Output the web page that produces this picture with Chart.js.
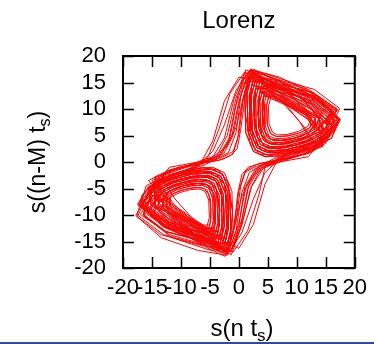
<!DOCTYPE html>
<html>
<head>
<meta charset="utf-8">
<script src="https://cdn.jsdelivr.net/npm/chart.js@4.4.1/dist/chart.umd.min.js"></script>
<style>
  html, body { margin: 0; padding: 0; background: #fff; }
  #wrap { position: relative; width: 374px; height: 344px; }
</style>
</head>
<body>
<div id="wrap"><canvas id="canvas" width="374" height="344"></canvas></div>
<script>
// delay embedding: x = s(n t_s), y = s((n-M) t_s)
const delayM = 3;
const xTickValues = [-20, -15, -10, -5, 0, 5, 10, 15, 20];
const yTickValues = [-20, -15, -10, -5, 0, 5, 10, 15, 20];
const titleText = "Lorenz";

// sampled Lorenz x signal s(n t_s); one loop (peak to peak) per line
const signal = [
  // right wing
  13.0, 10.8, 7.0, 5.3, 4.8, 4.9, 5.5, 6.5, 8.3, 10.5, 12.3,
  13.2, 9.0, 5.2, 3.6, 3.3, 3.9, 5.0, 6.9, 9.7, 12.5, 14.2,
  16.1, 12.3, 6.0, 3.0, 2.1, 2.3, 3.4, 5.1, 8.1, 11.9, 14.9,
  17.4, 13.0, 5.5, 2.0, 1.0, 1.2, 2.5, 4.5, 8.0, 12.5, 16.0,
  17.2, 12.8, 5.5, 1.8, 0.4, -0.5, -1.8, -4.0, -8.0, -12.5,
  // left wing
  -13.8, -11.2, -6.7, -4.6, -4.0, -4.1, -4.9, -6.1, -8.2, -10.9, -13.0,
  -13.2, -9.0, -5.2, -3.6, -3.3, -3.9, -5.0, -6.9, -9.7, -12.5, -14.2,
  -16.1, -12.3, -6.0, -3.0, -2.1, -2.3, -3.4, -5.1, -8.1, -11.9, -14.9,
  -17.0, -12.8, -5.7, -2.3, -1.4, -1.6, -2.8, -4.7, -8.0, -12.3, -15.6,
  -17.4, -13.0, -5.8, -2.0, -0.5, 0.5, 1.8, 4.0, 8.0, 12.5,
  // right wing
  15.2, 11.9, 6.3, 3.6, 2.9, 3.0, 4.0, 5.5, 8.1, 11.5, 14.1,
  14.5, 9.2, 4.2, 2.2, 1.8, 2.5, 4.0, 6.5, 10.1, 13.7, 15.9,
  16.8, 12.0, 4.5, 1.0, -0.8, -2.5, -4.5, -7.5, -11.5, -15.0,
  // left wing
  -13.0, -10.8, -7.0, -5.3, -4.8, -4.9, -5.5, -6.5, -8.3, -10.5, -12.3,
  -12.5, -9.0, -5.7, -4.3, -4.1, -4.5, -5.5, -7.2, -9.6, -12.0, -13.4,
  -14.7, -11.7, -6.4, -4.0, -3.3, -3.4, -4.3, -5.7, -8.2, -11.3, -13.8,
  -13.9, -9.1, -4.7, -2.9, -2.6, -3.2, -4.5, -6.7, -9.9, -13.1, -15.1,
  -16.5, -12.6, -5.8, -2.7, -1.8, -1.9, -3.1, -4.9, -8.1, -12.1, -15.3,
  -16.5, -11.8, -4.6, -1.2, 0.5, 2.2, 4.2, 7.5, 11.5, 15.0,
  // right wing
  14.3, 11.4, 6.6, 4.3, 3.6, 3.8, 4.6, 5.9, 8.2, 11.1, 13.4,
  15.6, 12.1, 6.1, 3.3, 2.5, 2.7, 3.7, 5.3, 8.1, 11.7, 14.5,
  13.9, 9.1, 4.7, 2.9, 2.6, 3.2, 4.5, 6.7, 9.9, 13.1, 15.1,
  17.0, 12.8, 5.7, 2.3, 1.4, 1.6, 2.8, 4.7, 8.0, 12.3, 15.6,
  17.5, 13.2, 6.0, 2.5, 1.2, 0.3, -0.3, -1.5, -3.5, -7.5, -12.0,
  // left wing
  -15.6, -12.1, -6.1, -3.3, -2.5, -2.7, -3.7, -5.3, -8.1, -11.7, -14.5,
  -14.5, -9.2, -4.2, -2.2, -1.8, -2.5, -4.0, -6.5, -10.1, -13.7, -15.9,
  -17.8, -13.5, -6.0, -2.4, -1.0, -0.2, 0.5, 1.6, 3.8, 7.6, 12.0,
  // right wing
  12.5, 10.5, 7.2, 5.6, 5.1, 5.2, 5.8, 6.7, 8.3, 10.3, 11.9,
  12.5, 9.0, 5.7, 4.3, 4.1, 4.5, 5.5, 7.2, 9.6, 12.0, 13.4,
  14.3, 11.4, 6.6, 4.3, 3.6, 3.8, 4.6, 5.9, 8.2, 11.1, 13.4,
  13.2, 9.0, 5.2, 3.6, 3.3, 3.9, 5.0, 6.9, 9.7, 12.5, 14.2,
  16.1, 12.3, 6.0, 3.0, 2.1, 2.3, 3.4, 5.1, 8.1, 11.9, 14.9,
  16.0, 11.5, 5.0, 1.5, 0.0, -1.2, -3.0, -6.0, -10.5, -14.5,
  // left wing
  -14.3, -11.4, -6.6, -4.3, -3.6, -3.8, -4.6, -5.9, -8.2, -11.1, -13.4,
  -13.9, -9.1, -4.7, -2.9, -2.6, -3.2, -4.5, -6.7, -9.9, -13.1, -15.1,
  -16.5, -12.6, -5.8, -2.7, -1.8, -1.9, -3.1, -4.9, -8.1, -12.1, -15.3,
  -15.2, -9.3, -3.8, -1.5, -1.1, -1.9, -3.5, -6.3, -10.3, -14.3, -16.7,
  -16.2, -11.5, -4.8, -1.5, 0.0, 1.2, 3.0, 6.0, 10.5, 14.5,
  // right wing
  13.8, 11.2, 6.7, 4.6, 4.0, 4.1, 4.9, 6.1, 8.2, 10.9, 13.0,
  13.2, 9.0, 5.2, 3.6, 3.3, 3.9, 5.0, 6.9, 9.7, 12.5, 14.2,
  16.5, 12.6, 5.8, 2.7, 1.8, 1.9, 3.1, 4.9, 8.1, 12.1, 15.3,
  17.4, 12.5, 4.8, 1.2, -0.2, -1.5, -3.5, -6.8, -11.0, -15.0,
  // left wing
  -12.5, -10.5, -7.2, -5.6, -5.1, -5.2, -5.8, -6.7, -8.3, -10.3, -11.9,
  -11.9, -8.9, -6.1, -5.0, -4.8, -5.2, -6.0, -7.4, -9.4, -11.4, -12.6,
  -13.8, -11.2, -6.7, -4.6, -4.0, -4.1, -4.9, -6.1, -8.2, -10.9, -13.0,
  -13.2, -9.0, -5.2, -3.6, -3.3, -3.9, -5.0, -6.9, -9.7, -12.5, -14.2,
  -15.6, -12.1, -6.1, -3.3, -2.5, -2.7, -3.7, -5.3, -8.1, -11.7, -14.5,
  -17.0, -12.8, -5.7, -2.3, -1.4, -1.6, -2.8, -4.7, -8.0, -12.3, -15.6,
  -17.5, -12.8, -5.0, -1.3, 0.2, 1.5, 3.5, 6.8, 11.0, 15.0,
  // right wing
  16.1, 12.3, 6.0, 3.0, 2.1, 2.3, 3.4, 5.1, 8.1, 11.9, 14.9,
  15.2, 9.3, 3.8, 1.5, 1.1, 1.9, 3.5, 6.3, 10.3, 14.3, 16.7,
  15.5, 11.0, 4.5, 1.5, 0.5, -0.2, -1.0, -2.8, -6.0, -10.5, -14.5,
  // left wing
  -13.4, -11.0, -6.9, -4.9, -4.4, -4.5, -5.2, -6.3, -8.2, -10.7, -12.6,
  -12.5, -9.0, -5.7, -4.3, -4.1, -4.5, -5.5, -7.2, -9.6, -12.0, -13.4,
  -15.2, -11.9, -6.3, -3.6, -2.9, -3.0, -4.0, -5.5, -8.1, -11.5, -14.1,
  -16.1, -12.3, -6.0, -3.0, -2.1, -2.3, -3.4, -5.1, -8.1, -11.9, -14.9,
  -15.8, -11.2, -4.6, -1.6, -0.5, 0.3, 1.2, 3.0, 6.2, 10.5, 14.5,
  // right wing
  13.0, 10.8, 7.0, 5.3, 4.8, 4.9, 5.5, 6.5, 8.3, 10.5, 12.3,
  12.5, 9.0, 5.7, 4.3, 4.1, 4.5, 5.5, 7.2, 9.6, 12.0, 13.4,
  14.7, 11.7, 6.4, 4.0, 3.3, 3.4, 4.3, 5.7, 8.2, 11.3, 13.8,
  13.9, 9.1, 4.7, 2.9, 2.6, 3.2, 4.5, 6.7, 9.9, 13.1, 15.1,
  16.5, 12.6, 5.8, 2.7, 1.8, 1.9, 3.1, 4.9, 8.1, 12.1, 15.3,
  17.0, 12.0, 5.0, 1.6, 0.2, -1.0, -2.6, -5.0, -9.0, -13.5,
  // left wing
  -15.2, -11.9, -6.3, -3.6, -2.9, -3.0, -4.0, -5.5, -8.1, -11.5, -14.1,
  -14.5, -9.2, -4.2, -2.2, -1.8, -2.5, -4.0, -6.5, -10.1, -13.7, -15.9,
  -17.4, -13.0, -5.5, -2.0, -1.0, -1.2, -2.5, -4.5, -8.0, -12.5, -16.0,
  -17.0, -12.0, -4.8, -1.4, 0.0, 1.0, 2.8, 5.2, 9.0, 13.5,
  // right wing
  14.7, 11.7, 6.4, 4.0, 3.3, 3.4, 4.3, 5.7, 8.2, 11.3, 13.8,
  13.9, 9.1, 4.7, 2.9, 2.6, 3.2, 4.5, 6.7, 9.9, 13.1, 15.1,
  17.0, 12.8, 5.7, 2.3, 1.4, 1.6, 2.8, 4.7, 8.0, 12.3, 15.6,
  16.5, 12.2, 5.2, 2.0, 0.8, 0.0, -1.0, -3.0, -7.0, -12.0,
  // left wing
  -13.4, -11.0, -6.9, -4.9, -4.4, -4.5, -5.2, -6.3, -8.2, -10.7, -12.6,
  -13.2, -9.0, -5.2, -3.6, -3.3, -3.9, -5.0, -6.9, -9.7, -12.5, -14.2,
  -15.6, -12.1, -6.1, -3.3, -2.5, -2.7, -3.7, -5.3, -8.1, -11.7, -14.5,
  -16.8, -12.4, -5.4, -2.0, -0.8, 0.0, 1.0, 3.0, 7.0, 12.0,
  // right wing
  13.4, 11.0, 6.9, 4.9, 4.4, 4.5, 5.2, 6.3, 8.2, 10.7, 12.6,
  13.2, 9.0, 5.2, 3.6, 3.3, 3.9, 5.0, 6.9, 9.7, 12.5, 14.2,
  17.0, 13.0, 6.0, 1.0, -1.5, -3.5, -5.3, -8.0, -12.0, -15.5,
  // left wing
  -14.7, -11.7, -6.4, -4.0, -3.3, -3.4, -4.3, -5.7, -8.2, -11.3, -13.8,
  -14.5, -9.2, -4.2, -2.2, -1.8, -2.5, -4.0, -6.5, -10.1, -13.7, -15.9,
  -16.5, -12.0, -5.0, -1.2, 0.5, 2.0, 3.8, 6.5, 10.5, 14.5,
  // right wing
  15.6, 12.1, 6.1, 3.3, 2.5, 2.7, 3.7, 5.3, 8.1, 11.7, 14.5,
  16.5, 12.0, 5.0, 1.2, -0.5, -2.0, -3.8, -6.5, -10.5, -14.5,
  // left wing
  -16.1, -12.3, -6.0, -3.0, -2.1, -2.3, -3.4, -5.1, -8.1, -11.9, -14.9,
  -17.0, -13.0, -6.0, -1.0, 1.5, 3.5, 4.5, 8.0, 12.0, 15.5,
  // right wing
  13.8, 11.2, 6.7, 4.6, 4.0, 4.1, 4.9, 6.1, 8.2, 10.9, 13.0,
  13.9, 9.1, 4.7, 2.9, 2.6, 3.2, 4.5, 6.7, 9.9, 13.1, 15.1,
  16.0, 11.5, 4.0, 0.0, -2.5, -4.5, -6.5, -10.0, -14.0,
  // left wing
  -13.9, -9.1, -4.7, -2.9, -2.6, -3.2, -4.5, -6.7, -9.9, -13.1, -15.1,
  -17.0, -12.8, -5.7, -2.3, -1.4, -1.6, -2.8, -4.7, -8.0, -12.3, -15.6,
  -15.2, -10.5, -4.0, -0.8, 0.6, 1.8, 3.5, 6.0, 10.0, 14.0,
  // right wing
  16.5, 12.6, 5.8, 2.7, 1.8, 1.9, 3.1, 4.9, 8.1, 12.1, 15.3,
  15.0, 10.5, 4.0, 0.8, -0.6, -1.8, -3.5, -6.0, -10.0, -14.0,
  // left wing
  -15.2, -11.9, -6.3, -3.6, -2.9, -3.0, -4.0, -5.5, -8.1, -11.5, -14.1,
  -16.3, -11.8, -4.2, 0.0, 2.5, 4.5, 6.5, 10.0, 14.0,
  // right wing
  14.5, 9.2, 4.2, 2.2, 1.8, 2.5, 4.0, 6.5, 10.1, 13.7, 15.9,
  17.4, 13.0, 5.5, 2.0, 1.0, 1.2, 2.5, 4.5, 8.0, 12.5, 16.0,
  17.5, 13.5, 7.0, 2.0, -0.5, -2.5, -4.5, -7.0, -11.0, -15.0,
  // left wing
  -14.3, -11.4, -6.6, -4.3, -3.6, -3.8, -4.6, -5.9, -8.2, -11.1, -13.4,
  -16.5, -12.6, -5.8, -2.7, -1.8, -1.9, -3.1, -4.9, -8.1, -12.1, -15.3,
  -17.2, -13.0, -6.5, -2.8, -1.0, 0.5, 2.2, 4.5, 8.5, 13.0,
  // right wing
  15.2, 11.9, 6.3, 3.6, 2.9, 3.0, 4.0, 5.5, 8.1, 11.5, 14.1,
  17.0, 12.8, 5.7, 2.3, 1.4, 1.6, 2.8, 4.7, 8.0, 12.3, 15.6,
  17.2, 13.0, 6.5, 2.8, 1.0, -0.5, -2.2, -4.5, -8.5, -13.0,
  // left wing
  -13.8, -11.2, -6.7, -4.6, -4.0, -4.1, -4.9, -6.1, -8.2, -10.9, -13.0,
  -15.2, -9.3, -3.8, -1.5, -1.1, -1.9, -3.5, -6.3, -10.3, -14.3, -16.7,
  -17.6, -13.4, -7.0, -2.0, 0.5, 2.5, 4.5, 7.0, 11.0, 15.0,
  // right wing
  16.1, 12.3, 6.0, 3.0, 2.1, 2.3, 3.4, 5.1, 8.1, 11.9, 14.9
];

const FONT = "'Liberation Sans', Arial, Helvetica, sans-serif";

// build (s(n), s(n-M)) pairs
const points = [];
for (let n = delayM; n < signal.length; n++) {
  points.push({ x: signal[n], y: signal[n - delayM] });
}

// label text with a lowered small "s" subscript
function drawSubLabel(ctx, before, sub, after, cx, baseY, size) {
  const big = size + "px " + FONT;
  const small = Math.round(size * 0.7) + "px " + FONT;
  ctx.font = big;
  const w1 = ctx.measureText(before).width;
  const w3 = ctx.measureText(after).width;
  ctx.font = small;
  const w2 = ctx.measureText(sub).width;
  let x = cx - (w1 + w2 + w3) / 2;
  ctx.textAlign = "left";
  ctx.textBaseline = "alphabetic";
  ctx.font = big;
  ctx.fillText(before, x, baseY);
  x += w1;
  ctx.font = small;
  ctx.fillText(sub, x, baseY + 5);
  x += w2;
  ctx.font = big;
  ctx.fillText(after, x, baseY);
}

const framePlugin = {
  id: "frame",
  afterDraw(chart) {
    const ctx = chart.ctx;
    const a = chart.chartArea;
    const xs = chart.scales.x;
    const ys = chart.scales.y;
    ctx.save();
    ctx.strokeStyle = "#000";
    ctx.lineWidth = 2;
    ctx.strokeRect(a.left, a.top, a.right - a.left, a.bottom - a.top);

    // inward ticks on all four sides
    ctx.lineWidth = 1.5;
    ctx.beginPath();
    const tl = 11;
    xTickValues.forEach((v) => {
      const px = Math.round(xs.getPixelForValue(v)) + 0.5;
      ctx.moveTo(px, a.bottom);
      ctx.lineTo(px, a.bottom - tl);
      ctx.moveTo(px, a.top);
      ctx.lineTo(px, a.top + tl);
    });
    yTickValues.forEach((v) => {
      const py = Math.round(ys.getPixelForValue(v)) + 0.5;
      ctx.moveTo(a.left, py);
      ctx.lineTo(a.left + tl, py);
      ctx.moveTo(a.right, py);
      ctx.lineTo(a.right - tl, py);
    });
    ctx.stroke();

    // title over the plot box
    ctx.fillStyle = "#000";
    ctx.font = "24px " + FONT;
    ctx.textAlign = "center";
    ctx.textBaseline = "alphabetic";
    ctx.fillText(titleText, (a.left + a.right) / 2, 28);

    // axis titles
    drawSubLabel(ctx, "s(n t", "s", ")", 242, 336, 24);
    ctx.translate(45, (a.top + a.bottom) / 2);
    ctx.rotate(-Math.PI / 2);
    drawSubLabel(ctx, "s((n-M) t", "s", ")", 0, 0, 23);
    ctx.restore();

    // blue rule along the bottom edge
    ctx.save();
    ctx.fillStyle = "#2b4c9c";
    ctx.fillRect(0, 342, 374, 2);
    ctx.restore();
  },
};

const ctx = document.getElementById("canvas").getContext("2d");
new Chart(ctx, {
  type: "scatter",
  data: {
    datasets: [
      {
        data: points,
        showLine: true,
        borderColor: "#ff0000",
        borderWidth: 1,
        pointRadius: 0,
        fill: false,
        tension: 0,
      },
    ],
  },
  options: {
    responsive: false,
    animation: false,
    layout: { padding: { left: 0, right: 19, top: 56, bottom: 0 } },
    plugins: {
      legend: { display: false },
      tooltip: { enabled: false },
      title: { display: false },
    },
    scales: {
      x: {
        type: "linear",
        min: -20,
        max: 20,
        afterBuildTicks: (scale) => {
          scale.ticks = xTickValues.map((v) => ({ value: v }));
        },
        afterFit: (scale) => {
          scale.height = 76;
        },
        ticks: {
          autoSkip: false,
          maxRotation: 0,
          minRotation: 0,
          color: "#000",
          padding: 7,
          font: { family: FONT, size: 22 },
        },
        grid: { display: false, drawTicks: false },
        border: { display: false },
      },
      y: {
        type: "linear",
        min: -20,
        max: 20,
        afterBuildTicks: (scale) => {
          scale.ticks = yTickValues.map((v) => ({ value: v }));
        },
        afterFit: (scale) => {
          scale.width = 123;
        },
        ticks: {
          autoSkip: false,
          color: "#000",
          padding: 17,
          font: { family: FONT, size: 22 },
        },
        grid: { display: false, drawTicks: false },
        border: { display: false },
      },
    },
  },
  plugins: [framePlugin],
});
</script>
</body>
</html>
